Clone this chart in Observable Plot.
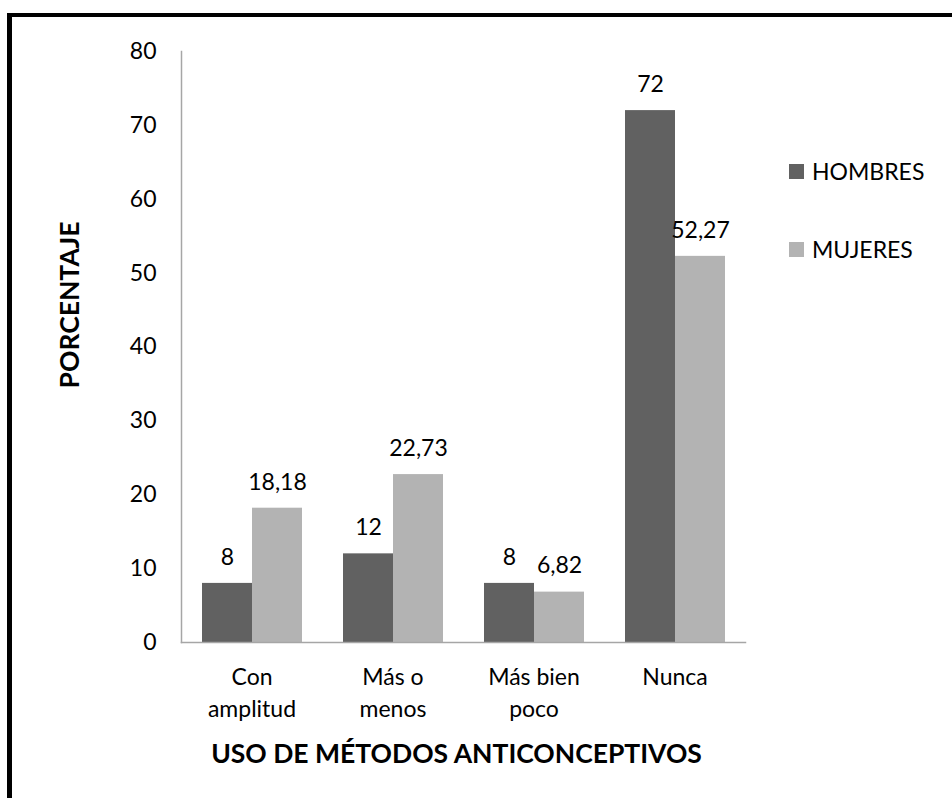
<!DOCTYPE html>
<html><head><meta charset="utf-8">
<script src="https://cdn.jsdelivr.net/npm/d3@7"></script>
<script src="https://cdn.jsdelivr.net/npm/@observablehq/plot@0.6"></script>
<style>
body{margin:0;background:#fff;}
#wrap{position:relative;width:952px;height:798px;overflow:hidden;font-family:Lato,"Open Sans",sans-serif;color:#000;background:#fff;}
#wrap svg{position:absolute;left:0;top:0;}
#border{position:absolute;left:7px;top:13px;right:-10px;bottom:-10px;border-left:5px solid #000;border-top:4px solid #000;}
.leg{position:absolute;left:789px;display:flex;align-items:center;font-size:23px;line-height:1;}
.leg span.sw{display:inline-block;width:15px;height:15px;margin-right:8px;}
</style></head><body><div id="wrap"><div id="border"></div></div>
<script>
const categories = ["Con\namplitud", "Más o\nmenos", "Más bien\npoco", "Nunca"];
const series = ["HOMBRES", "MUJERES"];
const hombres = [8, 12, 8, 72];
const mujeres = [18.18, 22.73, 6.82, 52.27];
const yTicks = [0, 10, 20, 30, 40, 50, 60, 70, 80];
const colors = ["#616161", "#b3b3b3"];
const yTitle = "PORCENTAJE";
const xTitle = "USO DE MÉTODOS ANTICONCEPTIVOS";

const data = categories.flatMap((c, i) => [
  {cat: c, sexo: series[0], valor: hombres[i]},
  {cat: c, sexo: series[1], valor: mujeres[i]}
]);
const fmt = v => String(v).replace(".", ",");

const chart = Plot.plot({
  width: 952, height: 798,
  marginLeft: 180, marginRight: 206, marginTop: 51, marginBottom: 156,
  style: {fontFamily: "Lato, 'Open Sans', sans-serif", fontSize: "23px", color: "#000", background: "transparent", overflow: "visible"},
  fx: {domain: categories, padding: 0, label: null},
  x: {domain: series, paddingInner: 0, paddingOuter: 0.387, axis: null},
  y: {domain: [0, 80], ticks: yTicks, tickSize: 0, tickPadding: 25, label: null, fontSize: 24},
  color: {domain: series, range: colors},
  marks: [
    Plot.barY(data, {fx: "cat", x: "sexo", y: "valor", fill: "sexo"}),
    Plot.text(data, {fx: "cat", x: "sexo", y: "valor", text: d => fmt(d.valor), dy: -26, fontSize: 23, fill: "#000"}),
    Plot.axisFx({anchor: "bottom", tickSize: 0, tickPadding: 20, fontSize: 23, lineHeight: 1.39, label: null}),
    Plot.frame({facet: "super", anchor: "left", stroke: "#a6a6a6", strokeWidth: 1.5}),
    Plot.frame({facet: "super", anchor: "bottom", stroke: "#a6a6a6", strokeWidth: 1.5}),
    Plot.text([yTitle], {facet: "super", frameAnchor: "left", textAnchor: "middle", lineAnchor: "middle", rotate: -90, dx: -111, dy: -42, fontWeight: "bold", fontSize: 26.5, fill: "#000"}),
    Plot.text([xTitle], {facet: "super", frameAnchor: "bottom", textAnchor: "middle", lineAnchor: "middle", dx: -7, dy: 112, fontWeight: "bold", fontSize: 26.5, fill: "#000"})
  ]
});
const wrap = document.getElementById("wrap");
wrap.appendChild(chart);

const legTops = [160, 238];
series.forEach((s, i) => {
  const d = document.createElement("div");
  d.className = "leg";
  d.style.top = legTops[i] + "px";
  d.innerHTML = `<span class="sw" style="background:${colors[i]}"></span><span>${s}</span>`;
  wrap.appendChild(d);
});
</script>
</body></html>
